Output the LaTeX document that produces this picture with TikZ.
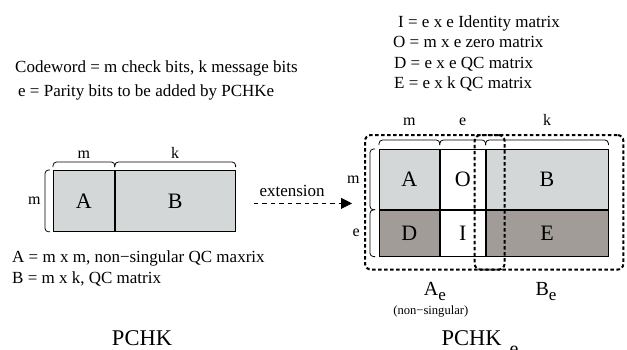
\documentclass[tikz,border=0pt]{standalone}
\usepackage{fontspec}
\setmainfont{Liberation Serif}
\usetikzlibrary{positioning}
\usetikzlibrary{calc}
\usetikzlibrary{fit}
\usetikzlibrary{arrows.meta}
\definecolor{cellgray}{RGB}{212,215,215}
\definecolor{celldark}{RGB}{161,156,152}
\newcommand{\fsz}[1]{\fontsize{#1}{#1}\selectfont}
% bracket over a cell: corner, corner, raise, label gap, label
\newcommand{\brkup}[5]{%
  \draw[brk] ($(#1)+(0,-#3)$) |- ($(#2)+(0,-#3-5)$)
    node[dimlbl, pos=0.75, above=#4pt] {#5} -- ($(#2)+(0,-#3)$);
}
% bracket left of a cell: lower corner, upper corner, raise, label gap, label
\newcommand{\brkleft}[5]{%
  \draw[brk] ($(#1)+(-#3,0)$) -| ($(#2)+(-#3-5,0)$)
    node[dimlbl, pos=0.75, left=#4pt] {#5} -- ($(#2)+(-#3,0)$);
}
\tikzset{
    cell/.style={draw, rectangle, inner sep=0pt, line width=0.8pt, font=\fsz{22}},
    lite/.style={cell, fill=cellgray},
    dark/.style={cell, fill=celldark},
    brk/.style={line width=0.8pt, rounded corners=3.5pt},
    dimlbl/.style={inner sep=0pt, font=\fsz{16}},
    note/.style={anchor=base west, inner sep=0pt, font=\fsz{17}},
    title/.style={anchor=base, inner sep=0pt, font=\fsz{22.5}},
    sub/.style={anchor=base, inner sep=0pt, font=\fsz{20}},
    group/.style={draw, inner sep=0pt, line width=2pt, dash pattern=on 3.5pt off 2.5pt, rounded corners=6pt},
    ext/.style={line width=0.8pt, dash pattern=on 4.5pt off 4pt, -{Triangle[length=11pt,width=11pt]},
        shorten <=18pt, shorten >=12pt},
}
\begin{document}
\begin{tikzpicture}[x=1pt, y=-1pt]
    \useasboundingbox (0,0) rectangle (627,349);

    \node[note] (codeword) at (15,72) {Codeword = m check bits, k message bits};
    \node[note] (parity) at (18,96) {e = Parity bits to be added by PCHKe};
    \node[note] (defI) at (398,27) {I = e x e Identity matrix};
    \node[note] (defO) at (393,47.5) {O = m x e zero matrix};
    \node[note] (defD) at (394,68) {D = e x e QC matrix};
    \node[note] (defE) at (394,88.5) {E = e x k QC matrix};

    % PCHK
    \node[lite, anchor=north west, minimum width=61pt, minimum height=61pt] (pA) at (53,170) {A};
    \node[lite, right=0pt of pA, minimum width=120pt, minimum height=61pt] (pB) {B};
    \brkup{pA.north west}{pA.north east}{3}{3}{m}
    \brkup{pB.north west}{pB.north east}{3}{3}{k}
    \brkleft{pA.south west}{pA.north west}{3}{4}{m}
    \node[note] (defA) at (12,262) {A = m x m, non−singular QC maxrix};
    \node[note] (defB) at (12,283) {B = m x k, QC matrix};
    \node[title] (ttlP) at (142,345) {PCHK};

    % PCHK e
    \node[lite, anchor=north west, minimum width=60pt, minimum height=60pt] (eA) at (379,149) {A};
    \node[cell, right=0pt of eA, minimum width=45pt, minimum height=60pt] (eO) {O};
    \node[lite, right=0pt of eO, minimum width=122pt, minimum height=60pt] (eB) {B};
    \node[dark, below=0pt of eA, minimum width=60pt, minimum height=46pt] (eD) {D};
    \node[cell, below=0pt of eO, minimum width=45pt, minimum height=46pt] (eI) {I};
    \node[dark, below=0pt of eB, minimum width=122pt, minimum height=46pt] (eE) {E};
    \brkup{eA.north west}{eA.north east}{4}{14}{m}
    \brkup{eO.north west}{eO.north east}{4}{14}{e}
    \brkup{eB.north west}{eB.north east}{4}{14}{k}
    \brkleft{eA.south west}{eA.north west}{4}{10}{m}
    \brkleft{eD.south west}{eD.north west}{4}{10}{e}

    \coordinate (gA-nw) at ($(eA.north west)+(-14,-14)$);
    \coordinate (gA-se) at ($(eI.south east)+(19,13)$);
    \coordinate (gB-nw) at ($(eO.north east)+(-11,-14)$);
    \coordinate (gB-se) at ($(eE.south east)+(15,13)$);
    \node[group, fit=(gA-nw)(gA-se)] (grpA) {};
    \node[group, fit=(gB-nw)(gB-se)] (grpB) {};
    \node[sub] (lblAe) at ($(grpA.south)+(0,25)$) {A\raisebox{-5pt}{\fsz{17}e}};
    \node[sub] (lblBe) at ($(grpB.south)+(-3,25)$) {B\raisebox{-5pt}{\fsz{17}e}};
    \node[anchor=base, inner sep=0pt, font=\fsz{12.6}] (nonsing) at ($(lblAe.base)+(-4,18.5)$) {(non−singular)};
    \node[title] (ttlPe) at (480,345) {PCHK\hspace{8pt}\raisebox{-10pt}{\fsz{20}e}};

    \coordinate (extS) at ([yshift=-2.5pt]pB.east);
    \coordinate (extE) at (extS -| grpA.west);
    \draw[ext] (extS) -- (extE)
        node[pos=0.44, anchor=base, yshift=7pt, inner sep=0pt, font=\fsz{17}] (extlbl) {extension};
\end{tikzpicture}
\end{document}
